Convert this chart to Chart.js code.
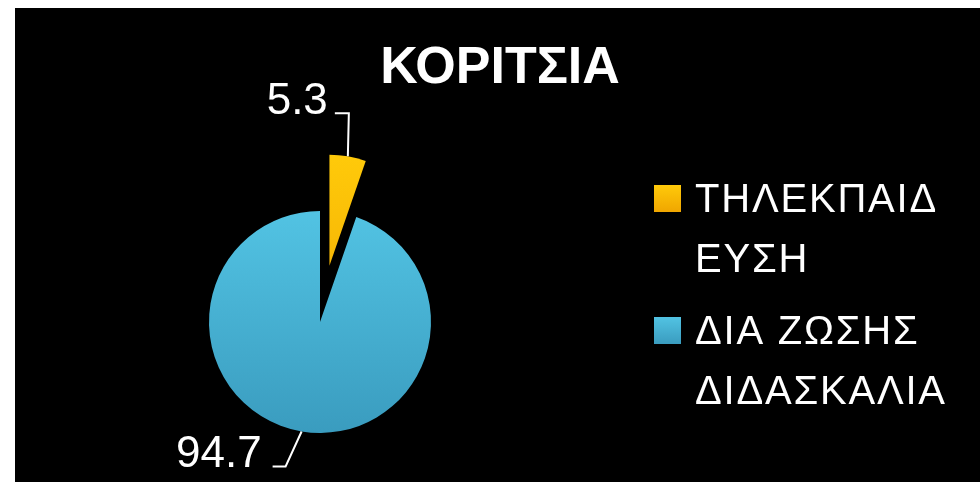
<!DOCTYPE html>
<html>
<head>
<meta charset="utf-8">
<script src="https://cdn.jsdelivr.net/npm/chart.js@4/dist/chart.umd.min.js"></script>
<style>
  html, body { margin: 0; padding: 0; background: #fff; }
  #wrap { position: absolute; left: 15px; top: 8px; width: 965px; height: 474px; background: #000; }
</style>
</head>
<body>
<div id="wrap"><canvas id="chart" width="965" height="474"></canvas></div>
<script>
let chartTitle = "ΚΟΡΙΤΣΙΑ";
let categories = [
	["ΤΗΛΕΚΠΑΙΔ", "ΕΥΣΗ"],
	["ΔΙΑ ΖΩΣΗΣ", "ΔΙΔΑΣΚΑΛΙΑ"],
];
let values = [5.3, 94.7];
let topColors = ["#FFCA0A", "#52C3E3"];
let bottomColors = ["#F0A600", "#3A9CBF"];
// how far each slice is pulled out of the pie, px
let explode = [57, 0];

Chart.defaults.font.family = "'Liberation Sans', Arial, sans-serif";

// leader line bends for each slice label: [dx, dy] from the slice edge, then arm length
let leaders = [
	{ dx: 1, dy: -43, arm: 14, gap: 7 },
	{ dx: -16, dy: 35, arm: 13, gap: 11 },
];

let pieFill = (c) => {
	let chart = c.chart;
	let area = chart.chartArea;
	let i = c.dataIndex;
	if (!area) return topColors[i];
	let cy = (area.top + area.bottom) / 2;
	let g = chart.ctx.createLinearGradient(0, cy - 111, 0, cy + 111);
	g.addColorStop(0, topColors[i]);
	g.addColorStop(1, bottomColors[i]);
	return g;
};

// draw the slices ourselves so a slice can be pulled out without growing
let explodedSlices = {
	id: "explodedSlices",
	beforeDatasetDraw(chart, args) {
		let ctx = chart.ctx;
		args.meta.data.forEach((arc, i) => {
			let mid = (arc.startAngle + arc.endAngle) / 2;
			ctx.save();
			ctx.translate(Math.cos(mid) * explode[i], Math.sin(mid) * explode[i]);
			arc.draw(ctx);
			ctx.restore();
		});
		return false;
	},
};

let drawExtras = {
	id: "drawExtras",
	afterDraw(chart) {
		let ctx = chart.ctx;
		ctx.save();

		// title
		ctx.fillStyle = "#fff";
		ctx.font = "bold 52px 'Liberation Sans', Arial, sans-serif";
		ctx.textAlign = "center";
		ctx.textBaseline = "alphabetic";
		ctx.fillText(chartTitle, 485, 75);

		// slice labels with leader lines
		let meta = chart.getDatasetMeta(0);
		meta.data.forEach((arc, i) => {
			let p = arc.getProps(["x", "y", "startAngle", "endAngle", "outerRadius"], true);
			let mid = (p.startAngle + p.endAngle) / 2;
			let r = p.outerRadius + explode[i];
			let sx = p.x + Math.cos(mid) * r;
			let sy = p.y + Math.sin(mid) * r;
			let l = leaders[i];
			let ex = sx + l.dx;
			let ey = sy + l.dy;
			ctx.strokeStyle = "#fff";
			ctx.lineWidth = 2;
			ctx.beginPath();
			ctx.moveTo(sx, sy);
			ctx.lineTo(ex, ey);
			ctx.lineTo(ex - l.arm, ey);
			ctx.stroke();
			ctx.font = "44px 'Liberation Sans', Arial, sans-serif";
			ctx.textAlign = "right";
			ctx.fillText(String(values[i]), ex - l.arm - l.gap, ey + 1);
		});

		// legend
		ctx.font = "40px 'Liberation Sans', Arial, sans-serif";
		ctx.letterSpacing = "1.8px";
		ctx.textAlign = "left";
		let y = 204;
		categories.forEach((lines, i) => {
			let g = ctx.createLinearGradient(0, y - 27, 0, y);
			g.addColorStop(0, topColors[i]);
			g.addColorStop(1, bottomColors[i]);
			ctx.fillStyle = g;
			ctx.fillRect(639, y - 27, 27, 27);
			ctx.fillStyle = "#fff";
			lines.forEach((t, k) => {
				ctx.fillText(t, 680, y + k * 60);
			});
			y += (lines.length - 1) * 60 + 72;
		});
		ctx.restore();
	},
};

let renderChart = () => {
	let pie = document.getElementById("chart");

	new Chart(pie, {
		type: "pie",
		data: {
			labels: categories,
			datasets: [
				{
					label: chartTitle,
					data: values,
					backgroundColor: pieFill,
					borderWidth: 0,
					radius: 111,
					clip: false,
				},
			],
		},
		options: {
			responsive: false,
			animation: false,
			layout: { padding: { left: 0, right: 355, top: 154, bottom: 0 } },
			plugins: {
				legend: { display: false },
				title: { display: false },
				tooltip: { enabled: false },
			},
		},
		plugins: [explodedSlices, drawExtras],
	});
};
renderChart();
</script>
</body>
</html>
